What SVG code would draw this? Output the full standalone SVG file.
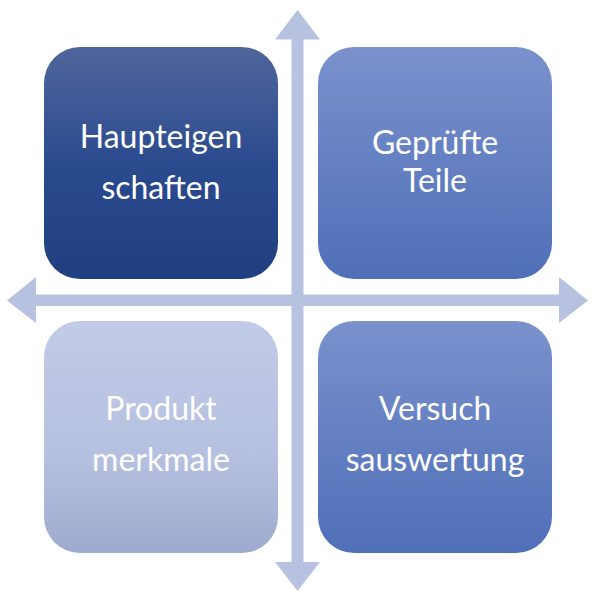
<svg xmlns="http://www.w3.org/2000/svg" width="600" height="600" viewBox="0 0 600 600">
  <defs>
    <linearGradient id="gTL" x1="0" y1="0" x2="0" y2="1">
      <stop offset="0" stop-color="#50669b"/>
      <stop offset="0.5" stop-color="#2b4b8f"/>
      <stop offset="1" stop-color="#1f3f80"/>
    </linearGradient>
    <linearGradient id="gTR" x1="0" y1="0" x2="0" y2="1">
      <stop offset="0" stop-color="#7a91cc"/>
      <stop offset="1" stop-color="#4f6fb8"/>
    </linearGradient>
    <linearGradient id="gBL" x1="0" y1="0" x2="0" y2="1">
      <stop offset="0" stop-color="#c2cbe7"/>
      <stop offset="0.6" stop-color="#b5c0e0"/>
      <stop offset="1" stop-color="#9eaacd"/>
    </linearGradient>
    <linearGradient id="gBR" x1="0" y1="0" x2="0" y2="1">
      <stop offset="0" stop-color="#7a91cc"/>
      <stop offset="1" stop-color="#4f6fb8"/>
    </linearGradient>
  </defs>
  <style>
    .lbl { font-family: Lato, "Open Sans", "Liberation Sans", sans-serif; font-size: 32px; fill: #ffffff; text-anchor: middle; }
    .arrow { fill: #b7c2e1; }
  </style>
  <rect width="600" height="600" fill="#ffffff"/>
  <g id="connectors">
    <polygon class="arrow" points="297.5,10 320,39.5 303.5,39.5 303.5,562 320,562 297.5,591 275,562 291.5,562 291.5,39.5 275,39.5"/>
    <polygon class="arrow" points="7,300.5 36,277 36,294.5 559,294.5 559,277 588,300.5 559,323 559,306 36,306 36,323"/>
  </g>
  <g id="node-haupteigenschaften">
    <rect x="44" y="47" width="234" height="232" rx="36" ry="36" fill="url(#gTL)"/>
    <text class="lbl" x="161" y="148">Haupteigen</text>
    <text class="lbl" x="161" y="199">schaften</text>
  </g>
  <g id="node-gepruefte-teile">
    <rect x="318" y="47" width="234" height="232" rx="36" ry="36" fill="url(#gTR)"/>
    <text class="lbl" x="435" y="154">Geprüfte</text>
    <text class="lbl" x="435" y="192">Teile</text>
  </g>
  <g id="node-produktmerkmale">
    <rect x="44" y="321" width="234" height="232" rx="36" ry="36" fill="url(#gBL)"/>
    <text class="lbl" x="161" y="420">Produkt</text>
    <text class="lbl" x="161" y="471">merkmale</text>
  </g>
  <g id="node-versuchsauswertung">
    <rect x="318" y="321" width="234" height="232" rx="36" ry="36" fill="url(#gBR)"/>
    <text class="lbl" x="435" y="420">Versuch</text>
    <text class="lbl" x="435" y="471">sauswertung</text>
  </g>
</svg>
